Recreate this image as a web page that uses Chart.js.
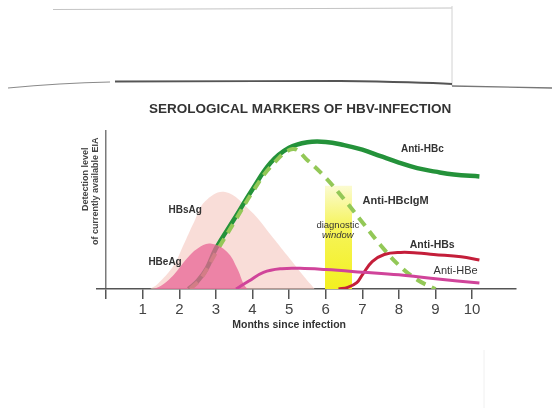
<!DOCTYPE html>
<html>
<head>
<meta charset="utf-8">
<script src="https://cdn.jsdelivr.net/npm/chart.js@4.4.1/dist/chart.umd.min.js"></script>
<style>
  html, body { margin: 0; padding: 0; background: #fff; }
  #wrap { position: relative; width: 552px; height: 408px; overflow: hidden; }
  #wrap canvas, #wrap svg { position: absolute; left: 0; top: 0; }
</style>
</head>
<body>
<div id="wrap">
  <!-- scanned page edges -->
  <svg width="552" height="408">
    <path d="M53 9.5 L452 8" stroke="#c4c4c4" stroke-width="1.2" fill="none"/>
    <path d="M452 6 L452 86" stroke="#d2d2d2" stroke-width="1" fill="none"/>
    <path d="M8 88 Q 60 83 110 82" stroke="#8a8a8a" stroke-width="1.2" fill="none"/>
    <path d="M115 81.5 L 340 81 Q 420 82 452 84" stroke="#555" stroke-width="1.8" fill="none"/>
    <path d="M452 86 Q 500 87 552 88" stroke="#777" stroke-width="1.4" fill="none"/>
    <path d="M484 350 L484 408" stroke="#f0f0f0" stroke-width="1" fill="none"/>
  </svg>
  <canvas id="hbv_Chart" width="552" height="408"></canvas>
</div>
<script>
const monthTicks = [1, 2, 3, 4, 5, 6, 7, 8, 9, 10];

const hbsagMonths = [1.2, 1.4, 1.85, 2.1, 2.4, 2.7, 3.25, 3.95, 4.5, 4.95, 5.4, 5.7];
const hbsagLevels = [0, 3, 15, 27, 42, 55, 61, 49, 34, 21, 8, 0];

const hbeagMonths = [1.3, 1.5, 1.85, 2.2, 2.5, 2.85, 3.3, 3.58, 3.76, 3.86];
const hbeagLevels = [0, 2, 9, 19, 25.5, 28.6, 23.4, 13, 3, 0];

const antiHBcMonths = [2.25, 2.5, 2.75, 3, 3.5, 4, 4.5, 5, 5.5, 6, 6.5, 7, 7.5, 8, 8.5, 9, 9.5, 10.2];
const antiHBcLevels = [0, 5, 13, 25.5, 44, 62.7, 79.5, 88.8, 92.3, 92.5, 90.5, 87.6, 83.5, 79.5, 76, 73.8, 72, 70.8];

const igmMonths = [2.3, 2.6, 3, 3.5, 4, 4.5, 5.1, 5.5, 6, 6.5, 7, 7.5, 8, 8.5, 9];
const igmLevels = [0, 7, 23, 42, 61, 77, 88, 81, 70, 56.5, 42, 27.5, 15, 5.8, 0];

const antiHBeMonths = [3.55, 3.9, 4.3, 4.8, 5.3, 6, 7, 8, 9, 10.2];
const antiHBeLevels = [0, 5, 10.5, 12.8, 13, 12.2, 10.6, 8.9, 6.4, 3.7];

const antiHBsMonths = [6.35, 6.6, 6.85, 7, 7.27, 7.6, 8.05, 8.5, 8.95, 9.7, 10.2];
const antiHBsLevels = [0, 1, 4, 8.9, 17.2, 21.7, 23, 22.7, 21.7, 20.3, 18.2];

const windowMonths = [5.98, 6.72];
const windowLevels = [65, 65];

const pts = (xs, ys) => xs.map((x, i) => ({ x: x, y: ys[i] }));

Chart.defaults.font.family = 'Arial, "Liberation Sans", sans-serif';

// text on the plot, placed in month / level units
const markerLabels = [
    { text: 'SEROLOGICAL MARKERS OF HBV-INFECTION', month: 5.3, level: 113, font: 'bold 13.5px Arial' },
    { text: 'Anti-HBc', month: 8.64, level: 87.6, font: 'bold 10px Arial' },
    { text: 'Anti-HBcIgM', month: 7.91, level: 55.5, font: 'bold 11px Arial' },
    { text: 'diagnostic', month: 6.33, level: 40, font: '9.5px Arial' },
    { text: 'window', month: 6.33, level: 33.7, font: 'italic 9.5px Arial' },
    { text: 'Anti-HBs', month: 8.91, level: 27.5, font: 'bold 10.5px Arial' },
    { text: 'Anti-HBe', month: 9.55, level: 11.2, font: '11px Arial' },
    { text: 'HBsAg', month: 2.16, level: 49.3, font: 'bold 10px Arial' },
    { text: 'HBeAg', month: 1.61, level: 16.8, font: 'bold 10px Arial' }
];

const textPlugin = {
    id: 'hbvText',
    afterDraw(chart) {
        const c = chart.ctx;
        const x = chart.scales.x, y = chart.scales.y;
        c.save();
        c.fillStyle = '#333';
        c.textAlign = 'center';
        c.textBaseline = 'middle';
        markerLabels.forEach(l => {
            c.font = l.font;
            c.fillText(l.text, x.getPixelForValue(l.month), y.getPixelForValue(l.level));
        });
        // x axis title
        c.font = 'bold 10.5px Arial';
        c.fillText('Months since infection', x.getPixelForValue(5), chart.chartArea.bottom + 36);
        // y axis title, two lines
        const x0 = x.getPixelForValue(0);
        c.fillStyle = '#444';
        c.font = 'bold 9px Arial';
        c.save();
        c.translate(x0 - 21, y.getPixelForValue(69));
        c.rotate(-Math.PI / 2);
        c.fillText('Detection level', 0, 0);
        c.restore();
        c.save();
        c.translate(x0 - 11, y.getPixelForValue(61.5));
        c.rotate(-Math.PI / 2);
        c.fillText('of currently available EIA', 0, 0);
        c.restore();
        c.restore();
    }
};

const line = (data, color, width, extra) => Object.assign({
    data: data,
    borderColor: color,
    borderWidth: width,
    pointRadius: 0,
    fill: false,
    tension: 0.4
}, extra || {});

const ctx = document.getElementById('hbv_Chart').getContext('2d');

const config = {
    type: 'line',
    data: {
        datasets: [
            line(pts(antiHBeMonths, antiHBeLevels), '#d0449a', 3),
            line(pts(antiHBsMonths, antiHBsLevels), '#c41e3a', 3),
            line(pts(hbeagMonths, hbeagLevels), 'rgba(0,0,0,0)', 0,
                { fill: 'origin', backgroundColor: 'rgba(232,100,150,0.75)' }),
            line(pts(igmMonths, igmLevels), '#93c857', 4, { borderDash: [10, 7] }),
            line(pts(antiHBcMonths, antiHBcLevels), '#24923a', 4.5),
            line(pts(hbsagMonths, hbsagLevels), 'rgba(0,0,0,0)', 0,
                { fill: 'origin', backgroundColor: 'rgba(245,198,190,0.6)' }),
            line(pts(windowMonths, windowLevels), 'rgba(0,0,0,0)', 0, {
                fill: 'origin',
                tension: 0,
                backgroundColor: (c) => {
                    const area = c.chart.chartArea;
                    if (!area) return '#f5f23a';
                    const g = c.chart.ctx.createLinearGradient(0, area.bottom, 0, c.chart.scales.y.getPixelForValue(65));
                    g.addColorStop(0, '#f3f020');
                    g.addColorStop(0.6, '#f6f45a');
                    g.addColorStop(1, '#fbfbd2');
                    return g;
                }
            })
        ]
    },
    options: {
        responsive: false,
        animation: false,
        layout: { padding: { top: 130, left: 97, right: 36, bottom: 87 } },
        scales: {
            x: {
                type: 'linear',
                min: -0.25,
                max: 11.2,
                afterBuildTicks: (scale) => {
                    scale.ticks = [0].concat(monthTicks).map(v => ({ value: v }));
                },
                ticks: {
                    autoSkip: false,
                    maxRotation: 0,
                    padding: 2,
                    color: '#444',
                    font: { size: 15 },
                    callback: (v) => v === 0 ? '' : v
                },
                grid: {
                    drawOnChartArea: true,
                    color: (c) => c.tick && c.tick.value === 0 ? '#7a7a7a' : 'rgba(0,0,0,0)',
                    tickColor: '#555',
                    tickLength: 10,
                    lineWidth: 1.5
                },
                border: { display: true, color: '#555', width: 1.5 }
            },
            y: {
                display: false,
                min: 0,
                max: 100
            }
        },
        plugins: {
            legend: { display: false },
            tooltip: { enabled: false },
            title: { display: false }
        }
    },
    plugins: [textPlugin]
};

const hbvChart = new Chart(ctx, config);
</script>
</body>
</html>
